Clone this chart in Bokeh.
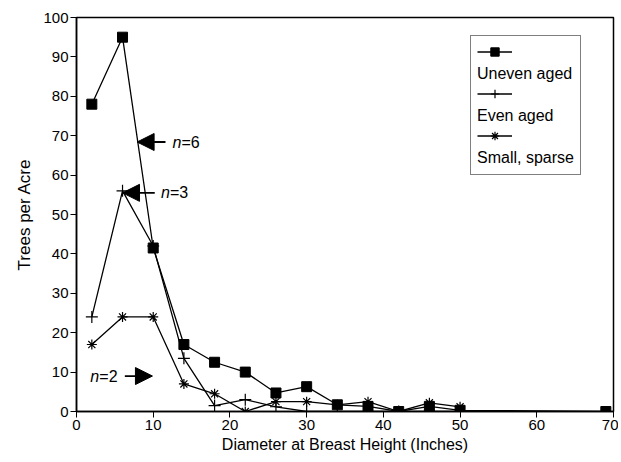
from bokeh.plotting import figure
from bokeh.models import Range1d, Legend, LegendItem, Arrow, NormalHead, Label, FixedTicker
from bokeh.embed import file_html
from bokeh.resources import INLINE

# Data (diameter class midpoints, inches; trees per acre)
dbh = [2, 6, 10, 14, 18, 22, 26, 30, 34, 38, 42, 46, 50]
uneven_x = [2, 6, 10, 14, 18, 22, 26, 30, 34, 38, 42, 46, 50, 69]
uneven_aged = [78, 95, 41.5, 17, 12.5, 10, 4.7, 6.3, 1.7, 1.3, 0, 1.3, 0.3, 0]
even_aged = [24, 56, 42, 13.5, 1.5, 3, 1.2, 0, 0, 0, 0, 0, 0]
small_sparse = [17, 24, 24, 7, 4.5, 0, 2.5, 2.5, 1.7, 2.5, 0, 2.2, 1.2]
x_ticks = [0, 10, 20, 30, 40, 50, 60, 70]
y_ticks = [0, 10, 20, 30, 40, 50, 60, 70, 80, 90, 100]
series_names = ["Uneven aged", "Even aged", "Small, sparse"]

FONT = "Liberation Sans"

p = figure(width=618, height=460, output_backend="svg", toolbar_location=None,
           x_range=Range1d(0, 70), y_range=Range1d(0, 100),
           min_border_left=76, min_border_right=5, min_border_top=17, min_border_bottom=49)
p.xgrid.visible = False
p.ygrid.visible = False
p.outline_line_color = "black"
p.outline_line_width = 1.5
p.background_fill_color = "white"

p.xaxis.ticker = FixedTicker(ticks=x_ticks)
p.yaxis.ticker = FixedTicker(ticks=y_ticks)
for ax in (p.xaxis[0], p.yaxis[0]):
    ax.axis_line_color = "black"
    ax.axis_line_width = 1.5
    ax.major_tick_line_color = "black"
    ax.major_tick_out = 6
    ax.major_tick_in = 0
    ax.minor_tick_line_color = None
    ax.major_label_text_font = FONT
    ax.major_label_text_font_size = "15px"
    ax.major_label_text_color = "black"
    ax.axis_label_text_font = FONT
    ax.axis_label_text_font_style = "normal"
    ax.axis_label_text_color = "black"
p.xaxis.axis_label = "Diameter at Breast Height (Inches)"
p.xaxis.axis_label_text_font_size = "16px"
p.xaxis.axis_label_standoff = 3
p.xaxis.major_label_standoff = 2
p.yaxis.axis_label = "Trees per Acre"
p.yaxis.axis_label_text_font_size = "17px"
p.yaxis.axis_label_standoff = 6
p.yaxis.major_label_standoff = 2

lw = 1.3
l1 = p.line(uneven_x, uneven_aged, line_color="black", line_width=lw)
s1 = p.scatter(uneven_x, uneven_aged, marker="square", size=10, fill_color="black", line_color="black")
l2 = p.line(dbh, even_aged, line_color="black", line_width=lw)
s2 = p.scatter(dbh, even_aged, marker="cross", size=12, line_color="black", line_width=1.2)
l3 = p.line(dbh, small_sparse, line_color="black", line_width=lw)
s3 = p.scatter(dbh, small_sparse, marker="asterisk", size=10, line_color="black", line_width=1.2)

# invisible renderer used for text-only legend rows
blank = p.line(x=[], y=[], line_alpha=0)

ROW = 21
PAD = 6
LEG_X, LEG_Y = 394, 236

# text legend (with box)
text_items = []
for name in series_names:
    text_items.append(LegendItem(label=" ", renderers=[blank]))
    text_items.append(LegendItem(label=name, renderers=[blank]))
leg_text = Legend(items=text_items, location=(LEG_X, LEG_Y))
leg_text.glyph_width = 0
leg_text.glyph_height = ROW
leg_text.label_height = ROW
leg_text.label_standoff = 0
leg_text.spacing = 0
leg_text.padding = PAD
leg_text.margin = 0
leg_text.border_line_color = "black"
leg_text.border_line_width = 1.2
leg_text.background_fill_color = "white"
leg_text.background_fill_alpha = 1
leg_text.label_text_font = FONT
leg_text.label_text_font_size = "16px"
leg_text.label_text_color = "black"
p.add_layout(leg_text, "center")

# glyph legend (transparent, overlaid; rows interleaved with the text rows)
leg_glyph = Legend(items=[
    LegendItem(label=" ", renderers=[l1, s1]),
    LegendItem(label=" ", renderers=[l2, s2]),
    LegendItem(label=" ", renderers=[l3, s3]),
], location=(LEG_X + 7, LEG_Y + ROW + 8))
leg_glyph.glyph_width = 35
leg_glyph.glyph_height = ROW
leg_glyph.label_height = ROW
leg_glyph.label_standoff = 0
leg_glyph.spacing = ROW
leg_glyph.padding = PAD
leg_glyph.margin = 0
leg_glyph.border_line_color = None
leg_glyph.background_fill_alpha = 0
leg_glyph.label_text_font = FONT
leg_glyph.label_text_font_size = "16px"
p.add_layout(leg_glyph, "center")

# Annotations
def arrow(x0, y0, x1, y1):
    p.add_layout(Arrow(end=NormalHead(size=17, fill_color="black", line_color="black"),
                       x_start=x0, y_start=y0, x_end=x1, y_end=y1,
                       line_color="black", line_width=1.8))

def nlabel(x, y, num):
    p.add_layout(Label(x=x, y=y, text="n", text_font=FONT, text_font_size="16px",
                       text_baseline="middle", text_font_style="italic", text_color="black"))
    p.add_layout(Label(x=x, y=y, x_offset=9, text="=" + num, text_font=FONT, text_font_size="16px",
                       text_baseline="middle", text_color="black"))

arrow(11.6, 68.4, 7.9, 68.4)
nlabel(12.5, 68.4, "6")
arrow(10.2, 55.5, 6.0, 55.5)
nlabel(11.0, 55.5, "3")
arrow(6.3, 9.0, 9.9, 9.0)
nlabel(1.8, 9.0, "2")

open("out.html", "w").write(file_html(p, INLINE))
